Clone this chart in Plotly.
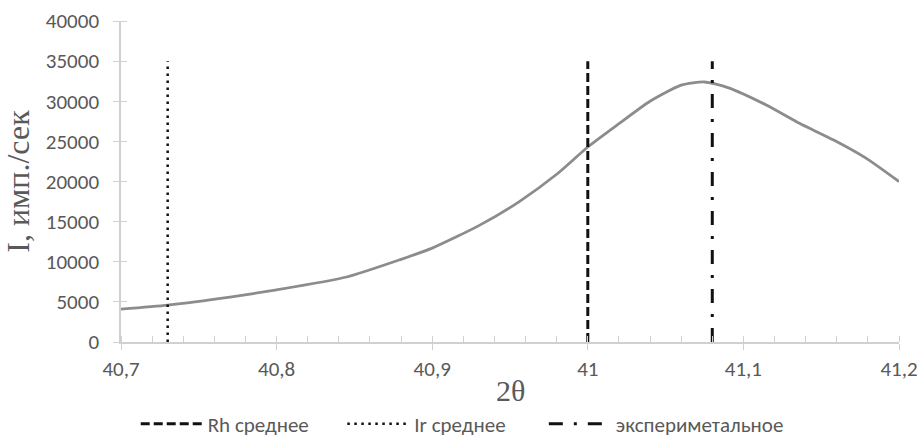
import plotly.graph_objects as go

# Experimental curve (2θ, intensity)
two_theta = [40.70, 40.73, 40.77, 40.80, 40.845, 40.88, 40.90, 40.93, 40.956, 40.98,
             41.00, 41.02, 41.04, 41.06, 41.075, 41.09, 41.115, 41.136, 41.158, 41.179, 41.20]
intensity = [4100, 4600, 5600, 6500, 8100, 10300, 11700, 14500, 17500, 20900,
             24300, 27200, 30000, 32000, 32400, 31700, 29500, 27250, 25170, 22890, 20000]

# Reference vertical lines
rh_x = [41.0, 41.0]
ir_x = [40.73, 40.73]
exp_x = [41.08, 41.08]
line_y = [0, 35000]

series_names = ["Rh среднее", "Ir среднее", "экспериметальное"]

x_ticks = [round(40.7 + 0.02 * i, 2) for i in range(26)]
x_major = {40.7: "40,7", 40.8: "40,8", 40.9: "40,9", 41.0: "41", 41.1: "41,1", 41.2: "41,2"}
x_labels = [x_major.get(v, "") for v in x_ticks]
y_ticks = [0, 5000, 10000, 15000, 20000, 25000, 30000, 35000, 40000]

tick_font = dict(family="Carlito, Lato, sans-serif", size=21, color="#595959")
legend_font = dict(family="Carlito, Lato, sans-serif", size=21, color="#595959")
serif = "'Liberation Serif', 'DejaVu Serif', serif"
axis_grey = "#d0d0d0"
pad = "\u00a0"

fig = go.Figure()
fig.add_trace(go.Scatter(x=two_theta, y=intensity, mode="lines", showlegend=False,
                         line=dict(color="#8c8c8c", width=2.8, shape="spline", smoothing=0.6),
                         hoverinfo="skip"))
fig.add_trace(go.Scatter(x=rh_x, y=line_y, mode="lines", name=series_names[0] + pad * 6,
                         line=dict(color="#111111", width=3, dash="9px,4px")))
fig.add_trace(go.Scatter(x=ir_x, y=line_y, mode="lines", name=series_names[1] + pad * 7,
                         line=dict(color="#111111", width=2.5, dash="2.5px,4.5px")))
fig.add_trace(go.Scatter(x=exp_x, y=line_y, mode="lines", name=series_names[2],
                         line=dict(color="#111111", width=3, dash="14px,11px,3px,11px")))

fig.update_layout(
    width=917, height=439,
    margin=dict(l=121, r=18, t=21, b=97, autoexpand=False),
    paper_bgcolor="white", plot_bgcolor="white",
    font=tick_font,
    legend=dict(orientation="h", xref="container", x=0.148, xanchor="left",
                yref="container", y=0.034, yanchor="middle",
                font=legend_font, itemwidth=62, traceorder="normal"),
    xaxis=dict(range=[40.7, 41.2], tickmode="array", tickvals=x_ticks, ticktext=x_labels,
               ticks="outside", ticklen=6, tickcolor=axis_grey, tickwidth=1.3, automargin=False,
               showline=True, linecolor=axis_grey, linewidth=1.5, showgrid=False, zeroline=False,
               minor=dict(tickmode="array", tickvals=x_ticks, ticks="inside", ticklen=6,
                          tickcolor=axis_grey, tickwidth=1.3, showgrid=False),
               tickfont=tick_font, ticklabelstandoff=1, ticklabeloverflow="allow"),
    yaxis=dict(range=[0, 40000], tickmode="array", tickvals=y_ticks, tickformat="d",
               ticks="outside", ticklen=6, tickcolor=axis_grey, tickwidth=1.3, automargin=False,
               showline=True, linecolor=axis_grey, linewidth=1.5, showgrid=False, zeroline=False,
               minor=dict(tickmode="array", tickvals=y_ticks, ticks="inside", ticklen=6,
                          tickcolor=axis_grey, tickwidth=1.3, showgrid=False),
               tickfont=tick_font, ticklabelstandoff=10, ticklabeloverflow="allow",
               title=dict(text="I, имп./сек", font=dict(family=serif, size=32, color="#595959"), standoff=12)),
    annotations=[dict(text="2θ", xref="paper", yref="paper", x=0.5, y=-0.15,
                      xanchor="center", yanchor="middle", showarrow=False,
                      font=dict(family=serif, size=30, color="#595959"))],
)

fig.write_html("out.html", config={"displayModeBar": False},
               post_script="document.body.style.margin='0px';")
